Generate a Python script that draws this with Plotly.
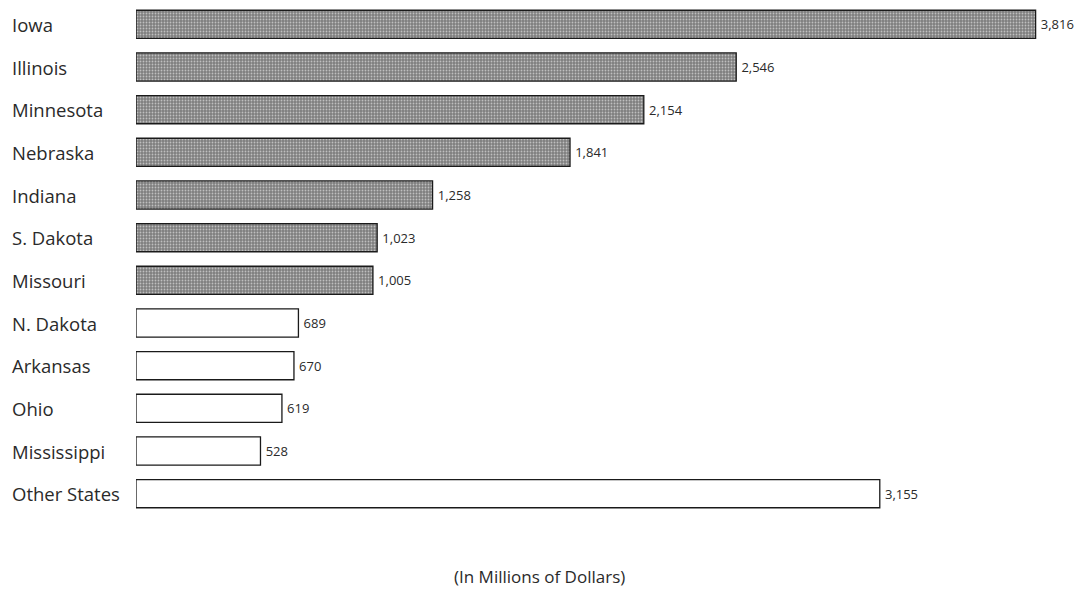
import plotly.graph_objects as go

# Farm income by state (millions of dollars)
states = ["Iowa", "Illinois", "Minnesota", "Nebraska", "Indiana", "S. Dakota",
          "Missouri", "N. Dakota", "Arkansas", "Ohio", "Mississippi", "Other States"]
values = [3816, 2546, 2154, 1841, 1258, 1023, 1005, 689, 670, 619, 528, 3155]
value_labels = ["3,816", "2,546", "2,154", "1,841", "1,258", "1,023", "1,005",
                "689", "670", "619", "528", "3,155"]
# first seven states are highlighted with a dark shaded fill
highlighted = [True] * 7 + [False] * 5

fill_colors = ["#7e7e7e" if h else "#ffffff" for h in highlighted]
pattern_shapes = ["." if h else "" for h in highlighted]

font_family = "Open Sans, Noto Sans, sans-serif"

fig = go.Figure()
fig.add_trace(go.Bar(
    x=values,
    y=states,
    orientation="h",
    marker=dict(
        color=fill_colors,
        line=dict(color="#1a1a1a", width=1.3),
        pattern=dict(shape=pattern_shapes, fgcolor="#b4b4b4", size=3,
                     solidity=0.3, fillmode="overlay"),
    ),
    text=value_labels,
    texttemplate="\u2009%{text}",
    textposition="outside",
    textfont=dict(family=font_family, size=13, color="#2a2a2a"),
    cliponaxis=False,
    hoverinfo="skip",
))

# category names, left-aligned at the page edge
for name in states:
    fig.add_annotation(
        x=0, xref="paper", xshift=-126, xanchor="left",
        y=name, yref="y", yanchor="middle",
        text=name, showarrow=False,
        font=dict(family=font_family, size=18.5, color="#2a2a2a"),
    )

fig.add_annotation(
    x=0.428, xref="paper", xanchor="center",
    y=-0.12, yref="paper", yanchor="middle",
    text="(In Millions of Dollars)", showarrow=False,
    font=dict(family=font_family, size=17, color="#2a2a2a"),
)

fig.update_layout(
    width=1082, height=594,
    margin=dict(l=136, r=3, t=3, b=79),
    paper_bgcolor="white", plot_bgcolor="white",
    bargap=0.34,
    showlegend=False,
    xaxis=dict(range=[0, 4000], visible=False),
    yaxis=dict(categoryorder="array", categoryarray=states, autorange="reversed",
               showticklabels=False, showgrid=False, zeroline=False, showline=False),
)

fig.write_html("out.html")
